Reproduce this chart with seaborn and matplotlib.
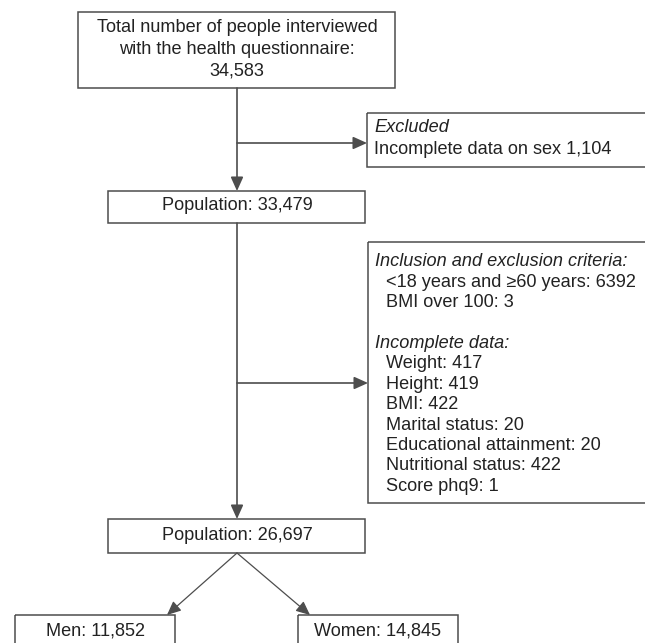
import matplotlib.pyplot as plt
import seaborn as sns
from matplotlib.patches import Rectangle

# flowchart data
screened_label = ["Total number of people interviewed", "with the health questionnaire:"]
screened_n = 34583
excluded_title = "Excluded"
excluded_label = "Incomplete data on sex"
excluded_n = 1104
pop_label = "Population"
pop_n = [33479, 26697]
criteria_title = "Inclusion and exclusion criteria:"
criteria_items = ["<18 years and \u226560 years", "BMI over 100"]
criteria_n = [6392, 3]
missing_title = "Incomplete data:"
missing_items = ["Weight", "Height", "BMI", "Marital status", "Educational attainment",
                 "Nutritional status", "Score phq9"]
missing_n = [417, 419, 422, 20, 20, 422, 1]
sex_groups = ["Men", "Women"]
sex_n = [11852, 14845]

sns.set_theme(style="white")
plt.rcParams['font.family'] = ['Liberation Sans', 'DejaVu Sans']

LINE = '#4d4d4d'
TXT = '#222222'
FS = 13.1

fig = plt.figure(figsize=(6.45, 6.43), dpi=100)
ax = fig.add_axes([0, 0, 1, 1])
ax.set_xlim(0, 645)
ax.set_ylim(643, 0)
ax.axis('off')


def box(x0, y0, x1, y1):
    ax.add_patch(Rectangle((x0, y0), x1 - x0, y1 - y0, fill=False, ec=LINE, lw=1.1, clip_on=False))


def arrow(x0, y0, x1, y1, lw=1.2):
    ax.annotate("", xy=(x1, y1), xytext=(x0, y0),
                arrowprops=dict(arrowstyle="-|>,head_length=0.6,head_width=0.27",
                                color=LINE, lw=lw, shrinkA=0, shrinkB=0, mutation_scale=14))


def txt(x, y, s, ha='center', style='normal'):
    ax.text(x, y, s, ha=ha, va='center', fontsize=FS, color=TXT, style=style)


cx = 237

# top box
box(78, 12, 395, 88)
lines = screened_label + [f"{screened_n:,}"]
for i, s in enumerate(lines):
    txt(cx, 28 + i * 21.5, s)

# main vertical flow
arrow(cx, 88, cx, 191)
arrow(cx, 223, cx, 519)

# excluded (sex)
arrow(cx, 143, 367, 143)
box(367, 113, 660, 167)
txt(374, 128, excluded_title, ha='left', style='italic')
txt(374, 149, f"{excluded_label} {excluded_n:,}", ha='left')

# population 1
box(108, 191, 365, 223)
txt(cx, 206, f"{pop_label}: {pop_n[0]:,}")

# criteria box
arrow(cx, 383, 368, 383)
box(368, 242, 660, 503)
crit_lines = [(criteria_title, 375, 'italic')]
crit_lines += [(f"{a}: {b}", 386, 'normal') for a, b in zip(criteria_items, criteria_n)]
crit_lines += [("", 375, 'normal'), (missing_title, 375, 'italic')]
crit_lines += [(f"{a}: {b}", 386, 'normal') for a, b in zip(missing_items, missing_n)]
for i, (s, x, st) in enumerate(crit_lines):
    if s:
        txt(x, 262 + i * 20.4, s, ha='left', style=st)

# population 2
box(108, 519, 365, 553)
txt(cx, 536, f"{pop_label}: {pop_n[1]:,}")

# sex split
sex_boxes = [(15, 175), (298, 458)]
tips = [167, 310]
for g, n, (x0, x1), tx in zip(sex_groups, sex_n, sex_boxes, tips):
    arrow(cx, 553, tx, 615, lw=0.9)
    box(x0, 615, x1, 660)
    txt((x0 + x1) / 2, 631, f"{g}: {n:,}")

fig.savefig('out.png', dpi=100)
